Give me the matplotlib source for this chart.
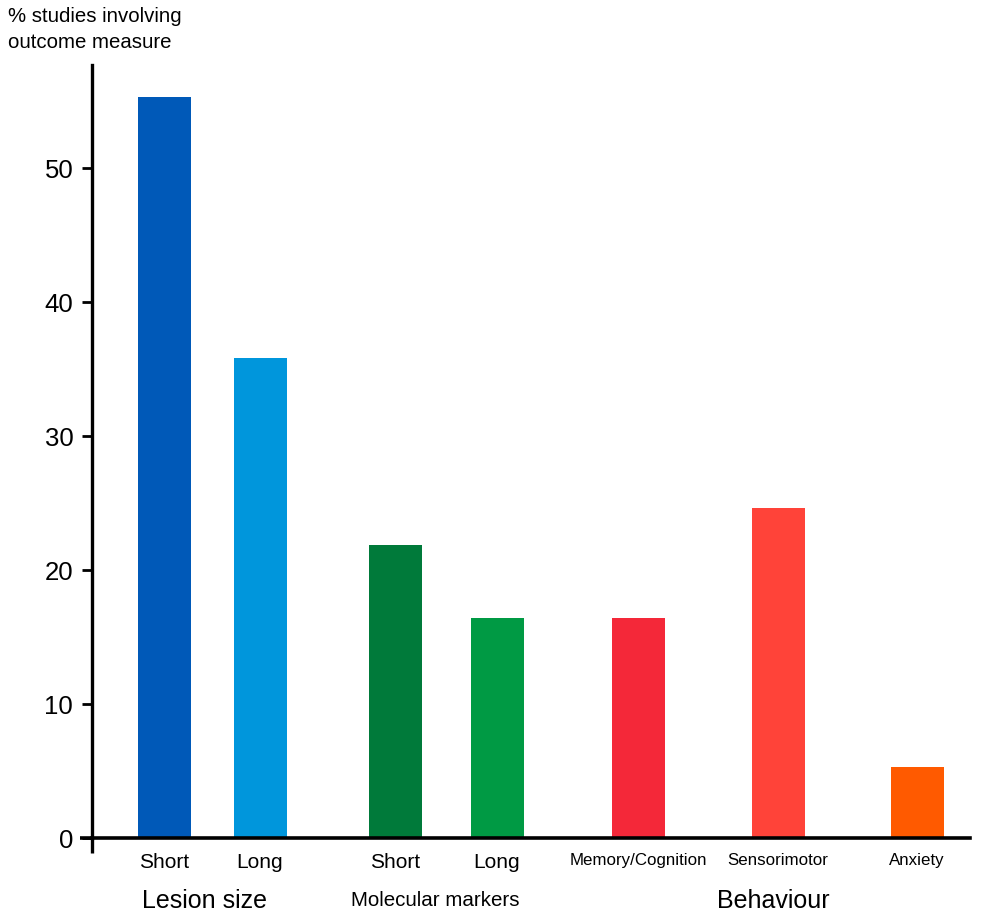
import matplotlib
matplotlib.use('Agg')
from matplotlib import pyplot as plt

plt.rcParams['font.family'] = ['Liberation Sans', 'DejaVu Sans']

# data
labels = ['Short', 'Long', 'Short', 'Long', 'Memory/Cognition', 'Sensorimotor', 'Anxiety']
values = [55.3, 35.8, 21.9, 16.4, 16.4, 24.6, 5.3]
colors = ['#0059b8', '#0096dc', '#007a3a', '#009a44', '#f42839', '#ff4339', '#ff5a00']
groups = ['Lesion size', 'Molecular markers', 'Behaviour']

# layout (bar centres in pixel-like units along the x axis)
xpos = [164, 260, 395, 497, 638, 778, 917]
label_sizes = [15, 15, 15, 15, 12.2, 12.2, 12.2]
group_x = [205, 435, 773]
group_sizes = [18, 14.8, 18]

fig = plt.figure(figsize=(9.92, 9.17), dpi=100)
ax = fig.add_axes([92/992, 1-838/917, (970-92)/992, (838-65)/917])

ax.bar(xpos, values, width=53, color=colors)
ax.set_xlim(92, 970)
ax.set_ylim(0, (838-65)/13.4)

ax.spines['top'].set_visible(False)
ax.spines['right'].set_visible(False)
ax.spines['left'].set_linewidth(2.4)
ax.spines['bottom'].set_linewidth(2.6)
ax.set_yticks([0, 10, 20, 30, 40, 50])
ax.tick_params(axis='y', length=7, width=2, labelsize=18.5, pad=6.5)
ax.set_xticks(xpos)
ax.set_xticklabels(labels)
ax.tick_params(axis='x', length=0, pad=11)
for t, s in zip(ax.get_xticklabels(), label_sizes):
    t.set_fontsize(s)

# small overhangs of the axes lines
ax.plot([80, 92], [0, 0], color='black', lw=2.6, clip_on=False, solid_capstyle='butt')
ax.plot([92, 92], [0, -15/13.4], color='black', lw=2.4, clip_on=False, solid_capstyle='butt')

for gx, g, s in zip(group_x, groups, group_sizes):
    ax.text(gx, -(901-838)/13.4, g, ha='center', va='center', fontsize=s)

fig.text(8/992, 1-7/917, '% studies involving\noutcome measure', ha='left', va='top',
         fontsize=14.7, linespacing=1.45)

fig.savefig('out.png', dpi=100)
